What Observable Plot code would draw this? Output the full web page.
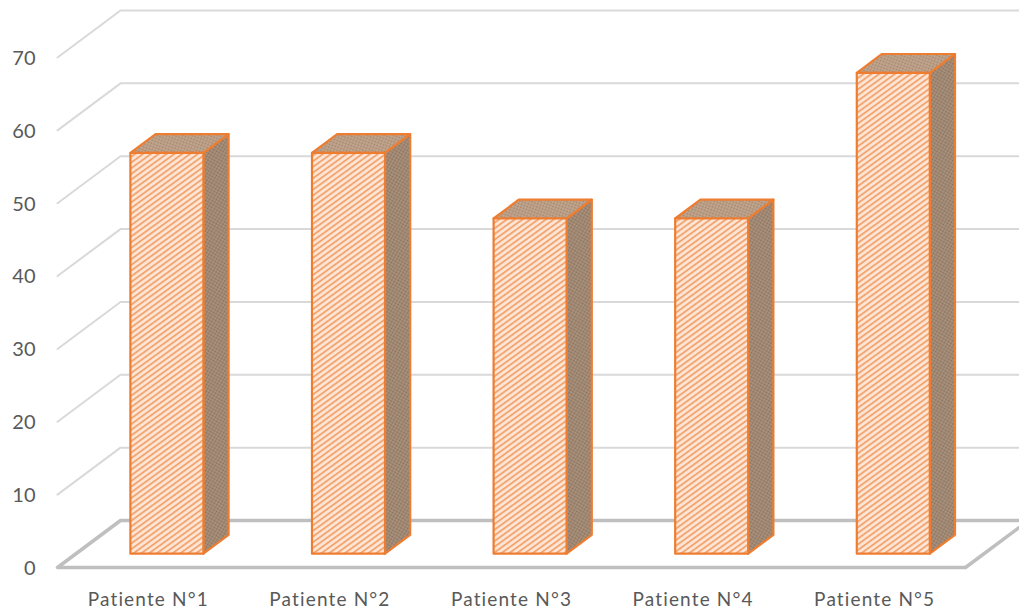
<!DOCTYPE html>
<html>
<head>
<meta charset="utf-8">
<style>
  html, body { margin: 0; padding: 0; background: #fff; }
  svg { display: block; }
  .patient-labels text { letter-spacing: 1.15px; }
</style>
<script src="https://cdn.jsdelivr.net/npm/d3@7"></script>
<script src="https://cdn.jsdelivr.net/npm/@observablehq/plot@0.6"></script>
</head>
<body>
<script>
// Chart content
const patients = ["Patiente N°1", "Patiente N°2", "Patiente N°3", "Patiente N°4", "Patiente N°5"];
const values = [55, 55, 46, 46, 66];
const gridLevels = [10, 20, 30, 40, 50, 60, 70];

// Oblique 3D projection, expressed in data units per unit of depth
const depthX = 0.347;
const depthY = 6.45;
const barHalfWidth = 0.201;
const barFrontDepth = 0.295;
const barBackDepth = 0.695;

const project = (x, y, depth) => ({x: x + depth * depthX, y: y + depth * depthY});
const centers = patients.map((_, i) => i + 0.5);

// Closed polygon for one face of a bar
function face(i, value, kind) {
  const l = centers[i] - barHalfWidth, r = centers[i] + barHalfWidth;
  const f = barFrontDepth, b = barBackDepth;
  const corners = {
    front: [[l, 0, f], [r, 0, f], [r, value, f], [l, value, f]],
    side: [[r, 0, f], [r, 0, b], [r, value, b], [r, value, f]],
    top: [[l, value, f], [r, value, f], [r, value, b], [l, value, b]]
  }[kind];
  return corners.map(([x, y, d]) => ({...project(x, y, d), bar: i}));
}

const facesOf = (kind) => values.flatMap((v, i) => face(i, v, kind));

// Wall lines: the oblique part on the left plus the long back line
const gridPath = (level) => [project(0, level, 0), project(0, level, 1), project(5, level, 1)]
  .map((p) => ({...p, level}));

const floor = [project(0, 0, 0), project(5, 0, 0), project(5, 0, 1), project(0, 0, 1)];

// Fill textures for the three bar faces
function textures() {
  const defs = d3.create("svg:defs");
  const front = defs.append("pattern").attr("id", "hatch-front")
    .attr("patternUnits", "userSpaceOnUse").attr("width", 4.6).attr("height", 4.6)
    .attr("patternTransform", "rotate(-36)");
  front.append("rect").attr("width", 4.6).attr("height", 4.6).attr("fill", "#fde6d6");
  front.append("rect").attr("width", 4.6).attr("height", 1.9).attr("fill", "#f2a673");

  const side = defs.append("pattern").attr("id", "hatch-side")
    .attr("patternUnits", "userSpaceOnUse").attr("width", 3).attr("height", 3)
    .attr("patternTransform", "rotate(-60)");
  side.append("rect").attr("width", 3).attr("height", 3).attr("fill", "#ab927c");
  side.append("circle").attr("cx", 1.5).attr("cy", 1.5).attr("r", 1).attr("fill", "#86705e");

  const top = defs.append("pattern").attr("id", "hatch-top")
    .attr("patternUnits", "userSpaceOnUse").attr("width", 3).attr("height", 3)
    .attr("patternTransform", "rotate(20)");
  top.append("rect").attr("width", 3).attr("height", 3).attr("fill", "#c4a78f");
  top.append("circle").attr("cx", 1.5).attr("cy", 1.5).attr("r", 1).attr("fill", "#a0856f");
  return defs.node();
}

const barEdge = {stroke: "#ed7d31", strokeWidth: 2.2, curve: "linear-closed", strokeLinejoin: "round"};

const chart = Plot.plot({
  width: 1019,
  height: 610,
  marginLeft: 57,
  marginRight: 54,
  marginTop: 57,
  marginBottom: 43,
  style: {background: "#fff", fontFamily: "Lato, sans-serif", color: "#595959"},
  x: {type: "linear", domain: [0, 5]},
  y: {type: "linear", domain: [0, 70]},
  marks: [
    textures,
    Plot.line(gridLevels.flatMap(gridPath), {
      x: "x", y: "y", z: "level", stroke: "#d9d9d9", strokeWidth: 2
    }),
    Plot.line(floor, {
      x: "x", y: "y", stroke: "#bfbfbf", strokeWidth: 3.5, curve: "linear-closed"
    }),
    Plot.line(facesOf("side"), {x: "x", y: "y", z: "bar", fill: "url(#hatch-side)", ...barEdge}),
    Plot.line(facesOf("top"), {x: "x", y: "y", z: "bar", fill: "url(#hatch-top)", ...barEdge}),
    Plot.line(facesOf("front"), {x: "x", y: "y", z: "bar", fill: "url(#hatch-front)", ...barEdge}),
    Plot.axisY({
      ticks: [0, ...gridLevels], tickSize: 0, tickPadding: 22, label: null,
      fill: "#595959", fontSize: 20, dy: 1
    }),
    Plot.axisX({
      ticks: centers, tickFormat: (d) => patients[d - 0.5], tickSize: 0, tickPadding: 22,
      label: null, fill: "#595959", fontSize: 19, dy: 3, className: "patient-labels"
    })
  ]
});
document.body.append(chart);
</script>
</body>
</html>
